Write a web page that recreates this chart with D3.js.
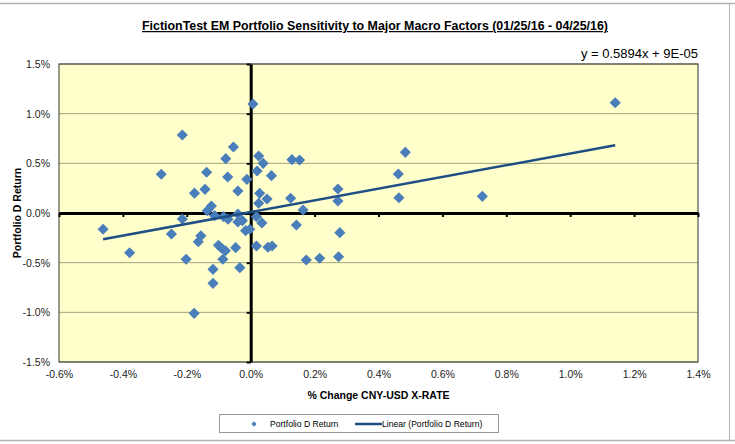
<!DOCTYPE html>
<html>
<head>
<meta charset="utf-8">
<script src="https://cdn.jsdelivr.net/npm/d3@7"></script>
<style>
  body { margin: 0; background: #fff; }
  .narrow { font-family: "Liberation Sans Narrow", "Arial Narrow", "Liberation Sans", sans-serif; }
</style>
</head>
<body>
<div id="chart"></div>
<script>
var svgWidth = 735;
var svgHeight = 444;

var margin = { top: 64, right: 37, bottom: 82, left: 59 };
var width = svgWidth - margin.left - margin.right;
var height = svgHeight - margin.top - margin.bottom;

// data (percent units)
var cnyChange = [-0.462, -0.379, -0.280, -0.248, -0.214, -0.214, -0.202, -0.177, -0.176, -0.164,
  -0.156, -0.143, -0.138, -0.136, -0.123, -0.118, -0.118, -0.113, -0.101, -0.091,
  -0.087, -0.085, -0.079, -0.078, -0.072, -0.071, -0.054, -0.047, -0.040, -0.040,
  -0.040, -0.034, -0.026, -0.016, -0.012, -0.003, 0.007, 0.018, 0.018, 0.020,
  0.025, 0.025, 0.028, 0.035, 0.039, 0.051, 0.054, 0.065, 0.067, 0.125,
  0.129, 0.143, 0.153, 0.164, 0.174, 0.216, 0.273, 0.273, 0.275, 0.279,
  0.462, 0.464, 0.484, 0.725, 1.141];
var portReturn = [-0.164, -0.400, 0.390, -0.211, 0.785, -0.060, -0.466, -1.010, 0.200, -0.290,
  -0.230, 0.238, 0.410, 0.023, 0.070, -0.567, -0.708, -0.027, -0.325, -0.355,
  -0.466, -0.037, -0.380, 0.547, 0.362, -0.063, 0.664, -0.349, 0.221, -0.010,
  -0.090, -0.550, -0.077, -0.178, 0.339, -0.164, 1.097, -0.037, -0.332, 0.423,
  0.574, 0.098, 0.198, -0.100, 0.500, 0.141, -0.345, 0.376, -0.332, 0.148,
  0.537, -0.121, 0.534, 0.030, -0.473, -0.456, 0.242, 0.121, -0.440, -0.198,
  0.393, 0.154, 0.611, 0.168, 1.110];
var trendSlope = 0.5894;
var trendIntercept = 0.009; // 9E-05 in percent
var xTicks = [-0.6, -0.4, -0.2, 0.0, 0.2, 0.4, 0.6, 0.8, 1.0, 1.2, 1.4];
var yTicks = [-1.5, -1.0, -0.5, 0.0, 0.5, 1.0, 1.5];

var points = cnyChange.map(function(x, i) { return { x: x, y: portReturn[i] }; });

var svg = d3.select("#chart").append("svg")
  .attr("width", svgWidth)
  .attr("height", svgHeight);

// outer chart frame lines
svg.append("line").attr("x1", 0).attr("x2", svgWidth).attr("y1", 3.5).attr("y2", 3.5)
  .attr("stroke", "#b4b4b4").attr("stroke-width", 1.5);
svg.append("line").attr("x1", 0).attr("x2", svgWidth).attr("y1", 440.5).attr("y2", 440.5)
  .attr("stroke", "#b4b4b4").attr("stroke-width", 1.5);
svg.append("line").attr("x1", 729.5).attr("x2", 729.5).attr("y1", 3.5).attr("y2", 440.5)
  .attr("stroke", "#b4b4b4").attr("stroke-width", 1);

var chartGroup = svg.append("g")
  .attr("transform", `translate(${margin.left}, ${margin.top})`);

var xScale = d3.scaleLinear().domain([-0.6, 1.4]).range([0, width]);
var yScale = d3.scaleLinear().domain([-1.5, 1.5]).range([height, 0]);

var fmt = function(d) { return d.toFixed(1) + "%"; };

// plot area
chartGroup.append("rect")
  .attr("width", width).attr("height", height)
  .attr("fill", "#ffffcc");

// gridlines
chartGroup.append("g")
  .selectAll("line")
  .data(yTicks)
  .enter()
  .append("line")
  .attr("x1", 0).attr("x2", width)
  .attr("y1", d => yScale(d)).attr("y2", d => yScale(d))
  .attr("stroke", "#a3a37f").attr("stroke-width", 1);

chartGroup.append("rect")
  .attr("width", width).attr("height", height)
  .attr("fill", "none").attr("stroke", "#333").attr("stroke-width", 1);

// tick labels (low position)
var bottomAxis = d3.axisBottom(xScale).tickValues(xTicks).tickFormat(fmt).tickSize(0).tickPadding(9);
var gx = chartGroup.append("g").attr("transform", `translate(0, ${height})`).call(bottomAxis);
gx.select(".domain").remove();
gx.selectAll("text").attr("class", "narrow").style("font-size", "10.5px").attr("fill", "#222");

var leftAxis = d3.axisLeft(yScale).tickValues(yTicks).tickFormat(fmt).tickSize(0).tickPadding(9);
var gy = chartGroup.append("g").call(leftAxis);
gy.select(".domain").remove();
gy.selectAll("text").attr("class", "narrow").style("font-size", "10.5px").attr("fill", "#222");

// zero axes with tick marks
var zeroX = chartGroup.append("g").attr("transform", `translate(0, ${yScale(0)})`)
  .call(d3.axisBottom(xScale).tickValues(xTicks).tickSize(4).tickSizeOuter(0).tickFormat(""));
zeroX.select(".domain").attr("stroke", "#000").attr("stroke-width", 3);
zeroX.selectAll(".tick line").attr("stroke", "#000").attr("stroke-width", 2);

var zeroY = chartGroup.append("g").attr("transform", `translate(${xScale(0)}, 0)`)
  .call(d3.axisLeft(yScale).tickValues(yTicks).tickSize(4).tickSizeOuter(0).tickFormat(""));
zeroY.select(".domain").attr("stroke", "#000").attr("stroke-width", 3);
zeroY.selectAll(".tick line").attr("stroke", "#000").attr("stroke-width", 2);

// scatter points (diamonds)
var diamond = d3.symbol().type(d3.symbolSquare).size(62);
chartGroup.selectAll(".pt")
  .data(points)
  .enter()
  .append("path")
  .attr("class", "pt")
  .attr("d", diamond)
  .attr("transform", d => `translate(${xScale(d.x)}, ${yScale(d.y)}) rotate(45)`)
  .attr("fill", "#4a7ebb");

// linear trend line
var xMin = d3.min(cnyChange), xMax = d3.max(cnyChange);
var trend = [xMin, xMax].map(x => ({ x: x, y: trendSlope * x + trendIntercept }));
chartGroup.append("path")
  .datum(trend)
  .attr("d", d3.line().x(d => xScale(d.x)).y(d => yScale(d.y)))
  .attr("stroke", "#1f4e85").attr("stroke-width", 2.5).attr("fill", "none");

// title
svg.append("text")
  .attr("x", 375).attr("y", 30)
  .attr("text-anchor", "middle")
  .attr("class", "narrow")
  .style("font-size", "12.4px").style("font-weight", "bold")
  .style("text-decoration", "underline")
  .text("FictionTest EM Portfolio Sensitivity to Major Macro Factors (01/25/16 - 04/25/16)");

// equation
svg.append("text")
  .attr("x", margin.left + width).attr("y", 58)
  .attr("text-anchor", "end")
  .attr("class", "narrow")
  .style("font-size", "13px")
  .text("y = 0.5894x + 9E-05");

// axis titles
svg.append("text")
  .attr("x", margin.left + width / 2).attr("y", 399)
  .attr("text-anchor", "middle")
  .style("font-family", "Liberation Sans, Arial, sans-serif")
  .style("font-size", "10.5px").style("font-weight", "bold")
  .text("% Change CNY-USD X-RATE");

svg.append("text")
  .attr("transform", `translate(21, ${margin.top + height / 2}) rotate(-90)`)
  .attr("text-anchor", "middle")
  .style("font-family", "Liberation Sans, Arial, sans-serif")
  .style("font-size", "10.5px").style("font-weight", "bold")
  .text("Portfolio D Return");

// legend
var legend = svg.append("g");
legend.append("rect")
  .attr("x", 219.5).attr("y", 414.5).attr("width", 279).attr("height", 18)
  .attr("fill", "#fff").attr("stroke", "#999");
legend.append("path")
  .attr("d", d3.symbol().type(d3.symbolSquare).size(14))
  .attr("transform", "translate(254, 424) rotate(45)")
  .attr("fill", "#4a7ebb");
legend.append("text")
  .attr("x", 270).attr("y", 427)
  .attr("class", "narrow").style("font-size", "8.6px")
  .text("Portfolio D Return");
legend.append("line")
  .attr("x1", 355).attr("x2", 382).attr("y1", 424).attr("y2", 424)
  .attr("stroke", "#1f4e85").attr("stroke-width", 2.5);
legend.append("text")
  .attr("x", 382).attr("y", 427)
  .attr("class", "narrow").style("font-size", "8.6px")
  .text("Linear (Portfolio D Return)");
</script>
</body>
</html>
